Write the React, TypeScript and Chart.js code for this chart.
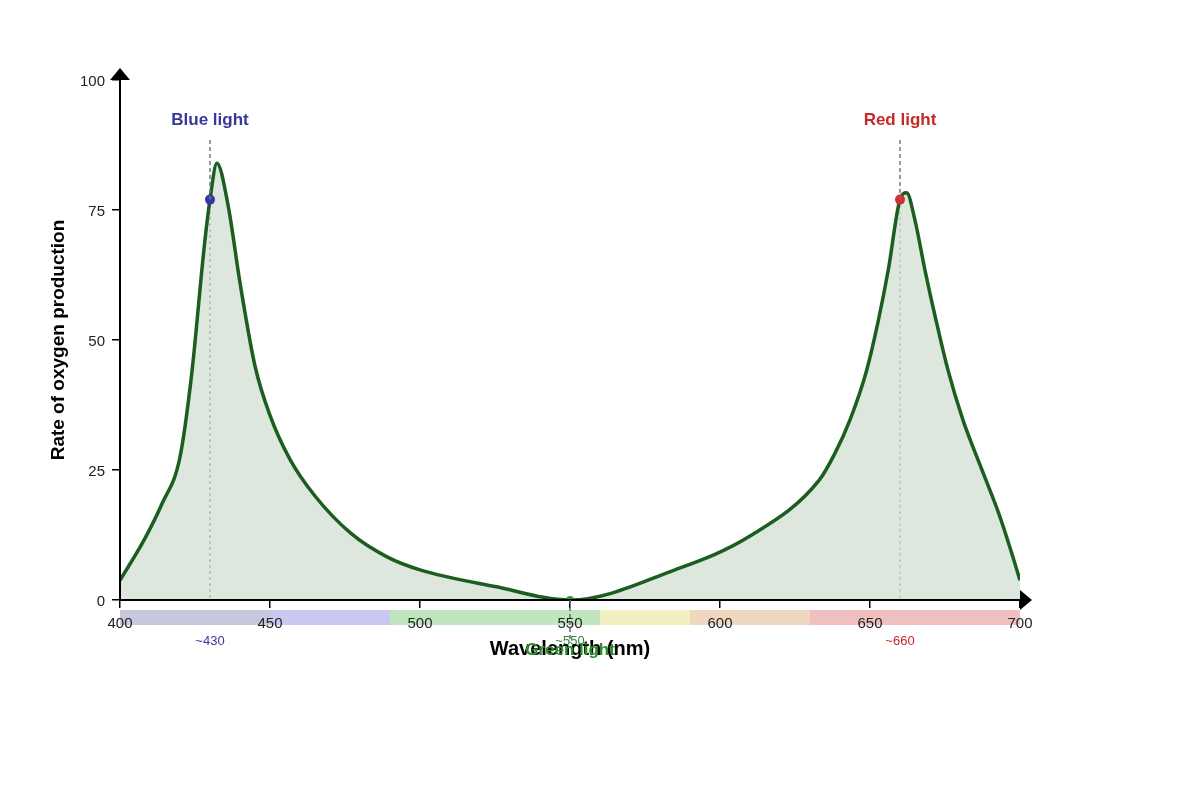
import React, { useEffect, useRef } from "react";
import { Chart, registerables } from "chart.js";

Chart.register(...registerables);

const FONT = '"Liberation Sans", Arial, Helvetica, sans-serif';

// Curve: wavelength (nm) vs rate of oxygen production
const wavelengths = [
  400, 408, 414, 420, 424, 428, 430, 432.3, 436, 440, 445, 450, 456.7, 465, 477,
  489, 500, 525, 550, 585, 610, 633, 638.3, 643.3, 648.9, 652.8, 656.1, 660,
  662.2, 665, 668.3, 672, 676, 681, 687, 693, 696.7, 700,
];
const oxygenRate = [
  3.8, 11.5, 18.5, 27.5, 44, 67.5, 77, 84, 76, 61, 45, 35.5, 27, 20, 12.8,
  8.3, 5.8, 2.6, 0, 5.8, 12.3, 23, 28.2, 34.6, 44.2, 53.8, 63.5, 77,
  78.3, 73, 63.5, 53.8, 44.2, 34.6, 25.5, 16.5, 10, 3.8,
];

// Highlighted wavelengths
const markerWavelengths = [430, 660, 550];
const markerValues = [77, 77, 0];
const markerNames = ["Blue light", "Red light", "Green light"];
const markerTags = ["~430", "~660", "~550"];
const markerColors = ["#3535a5", "#d32f2f", "#2e9e2e"];
const markerTextColors = ["#383898", "#c62828", "#2e8b2e"];
const markerGuideColors = ["rgba(150,150,175,0.7)", "rgba(205,170,170,0.7)", "#666"];

// Spectrum band under the x axis
const bandStarts = [400, 450, 490, 560, 590, 630];
const bandEnds = [450, 490, 560, 590, 630, 700];
const bandColors = ["#c8c8dc", "#c8c8f0", "#c0e6c0", "#f0f0c0", "#f0d8c0", "#f0c0c0"];

// Axes
const xTickStep = 50;
const yTickStep = 25;
const xMin = 400;
const xMax = 700;
const yMin = 0;
const yMax = 100;
const xTitle = "Wavelength (nm)";
const yTitle = "Rate of oxygen production";

const overlayPlugin = {
  id: "overlay",
  beforeDraw(chart: any) {
    const { ctx, chartArea, scales } = chart;
    const xs = scales.x;
    ctx.save();
    for (let i = 0; i < bandStarts.length; i++) {
      const x1 = xs.getPixelForValue(bandStarts[i]);
      const x2 = xs.getPixelForValue(bandEnds[i]);
      ctx.fillStyle = bandColors[i];
      ctx.fillRect(x1, chartArea.bottom + 10, x2 - x1, 15);
    }
    ctx.restore();
  },
  beforeDatasetsDraw(chart: any) {
    const { ctx, chartArea, scales } = chart;
    const xs = scales.x;
    const ys = scales.y;
    ctx.save();
    ctx.lineWidth = 1.5;
    ctx.setLineDash([2, 4]);
    for (let i = 0; i < 2; i++) {
      const x = xs.getPixelForValue(markerWavelengths[i]);
      const y = ys.getPixelForValue(markerValues[i]);
      ctx.strokeStyle = markerGuideColors[i];
      ctx.beginPath();
      ctx.moveTo(x, y);
      ctx.lineTo(x, chartArea.bottom);
      ctx.stroke();
    }
    ctx.restore();
  },
  afterDraw(chart: any) {
    const { ctx, chartArea, scales } = chart;
    const xs = scales.x;
    const ys = scales.y;
    const left = chartArea.left;
    const bottom = chartArea.bottom;
    const top = chartArea.top;
    const right = chartArea.right;
    ctx.save();

    // arrows
    ctx.fillStyle = "#000";
    ctx.beginPath();
    ctx.moveTo(left - 10, top);
    ctx.lineTo(left + 10, top);
    ctx.lineTo(left, top - 12);
    ctx.closePath();
    ctx.fill();
    ctx.beginPath();
    ctx.moveTo(right, bottom - 10);
    ctx.lineTo(right, bottom + 10);
    ctx.lineTo(right + 12, bottom);
    ctx.closePath();
    ctx.fill();

    // peak labels & dashed guides above
    const labelY = ys.getPixelForValue(yMax) + 40;
    for (let i = 0; i < 2; i++) {
      const x = xs.getPixelForValue(markerWavelengths[i]);
      const y = ys.getPixelForValue(markerValues[i]);
      ctx.strokeStyle = "#777";
      ctx.lineWidth = 1.5;
      ctx.setLineDash([4, 3]);
      ctx.beginPath();
      ctx.moveTo(x, labelY + 20);
      ctx.lineTo(x, y);
      ctx.stroke();
      ctx.setLineDash([]);
      ctx.font = `bold 17px ${FONT}`;
      ctx.fillStyle = markerTextColors[i];
      ctx.textAlign = "center";
      ctx.textBaseline = "middle";
      ctx.fillText(markerNames[i], x, labelY);
    }

    // green dashed guide below axis
    {
      const x = xs.getPixelForValue(markerWavelengths[2]);
      ctx.strokeStyle = markerGuideColors[2];
      ctx.lineWidth = 1.5;
      ctx.setLineDash([4, 3]);
      ctx.beginPath();
      ctx.moveTo(x, bottom);
      ctx.lineTo(x, bottom + 43);
      ctx.stroke();
      ctx.setLineDash([]);
    }

    // wavelength tags
    ctx.font = `13px ${FONT}`;
    ctx.textAlign = "center";
    ctx.textBaseline = "middle";
    for (let i = 0; i < 3; i++) {
      const x = xs.getPixelForValue(markerWavelengths[i]);
      ctx.fillStyle = markerTextColors[i];
      ctx.fillText(markerTags[i], x, bottom + 41);
    }

    // axis titles
    ctx.fillStyle = "#000";
    ctx.font = `bold 20px ${FONT}`;
    ctx.fillText(xTitle, (left + right) / 2, bottom + 49);

    ctx.fillStyle = markerTextColors[2];
    ctx.font = `bold 17px ${FONT}`;
    ctx.fillText(markerNames[2], xs.getPixelForValue(markerWavelengths[2]), bottom + 50);

    ctx.save();
    ctx.translate(59, (top + bottom) / 2);
    ctx.rotate(-Math.PI / 2);
    ctx.fillStyle = "#000";
    ctx.font = `bold 19px ${FONT}`;
    ctx.fillText(yTitle, 0, 0);
    ctx.restore();

    ctx.restore();
  },
};

export default function App() {
  const canvasRef = useRef<HTMLCanvasElement | null>(null);

  useEffect(() => {
    const canvas = canvasRef.current;
    if (!canvas) return;
    const chart = new Chart(canvas, {
      type: "line",
      data: {
        datasets: [
          {
            data: markerWavelengths.map((x, i) => ({ x, y: markerValues[i] })),
            showLine: false,
            pointRadius: [5, 5, 4],
            pointHoverRadius: [5, 5, 4],
            pointBorderWidth: 0,
            pointBackgroundColor: markerColors,
            pointBorderColor: markerColors,
            borderColor: "transparent",
            backgroundColor: markerColors,
            fill: false,
            order: 0,
          } as any,
          {
            data: wavelengths.map((x, i) => ({ x, y: oxygenRate[i] })),
            borderColor: "#1b5e20",
            borderWidth: 3.5,
            backgroundColor: "rgba(27,94,32,0.15)",
            fill: "origin",
            pointRadius: 0,
            cubicInterpolationMode: "monotone",
            order: 1,
          } as any,
        ],
      },
      options: {
        responsive: false,
        animation: false,
        events: [],
        layout: { padding: { top: 80, right: 180, left: 0, bottom: 0 } },
        plugins: {
          legend: { display: false },
          tooltip: { enabled: false },
        },
        scales: {
          x: {
            type: "linear",
            min: xMin,
            max: xMax,
            position: "bottom",
            afterFit: (s: any) => {
              s.height = 200;
            },
            ticks: {
              stepSize: xTickStep,
              color: "#222",
              font: { size: 15, family: FONT },
              padding: 7,
              maxRotation: 0,
            },
            grid: {
              display: true,
              drawOnChartArea: false,
              drawTicks: true,
              tickLength: 8,
              color: "#000",
              lineWidth: 1.5,
            },
            border: { display: true, color: "#000", width: 2, z: 1 },
          },
          y: {
            type: "linear",
            min: yMin,
            max: yMax,
            position: "left",
            afterFit: (s: any) => {
              s.width = 120;
            },
            ticks: {
              stepSize: yTickStep,
              color: "#222",
              font: { size: 15, family: FONT },
              padding: 7,
              labelOffset: 2,
            },
            grid: {
              display: true,
              drawOnChartArea: false,
              drawTicks: true,
              tickLength: 8,
              color: "#000",
              lineWidth: 1.5,
            },
            border: { display: true, color: "#000", width: 2, z: 1 },
          },
        },
      } as any,
      plugins: [overlayPlugin],
    });
    return () => chart.destroy();
  }, []);

  return (
    <div style={{ position: "absolute", left: 0, top: 0, width: 1200, height: 800, background: "#fff" }}>
      <canvas ref={canvasRef} width={1200} height={800} style={{ display: "block" }} />
    </div>
  );
}
